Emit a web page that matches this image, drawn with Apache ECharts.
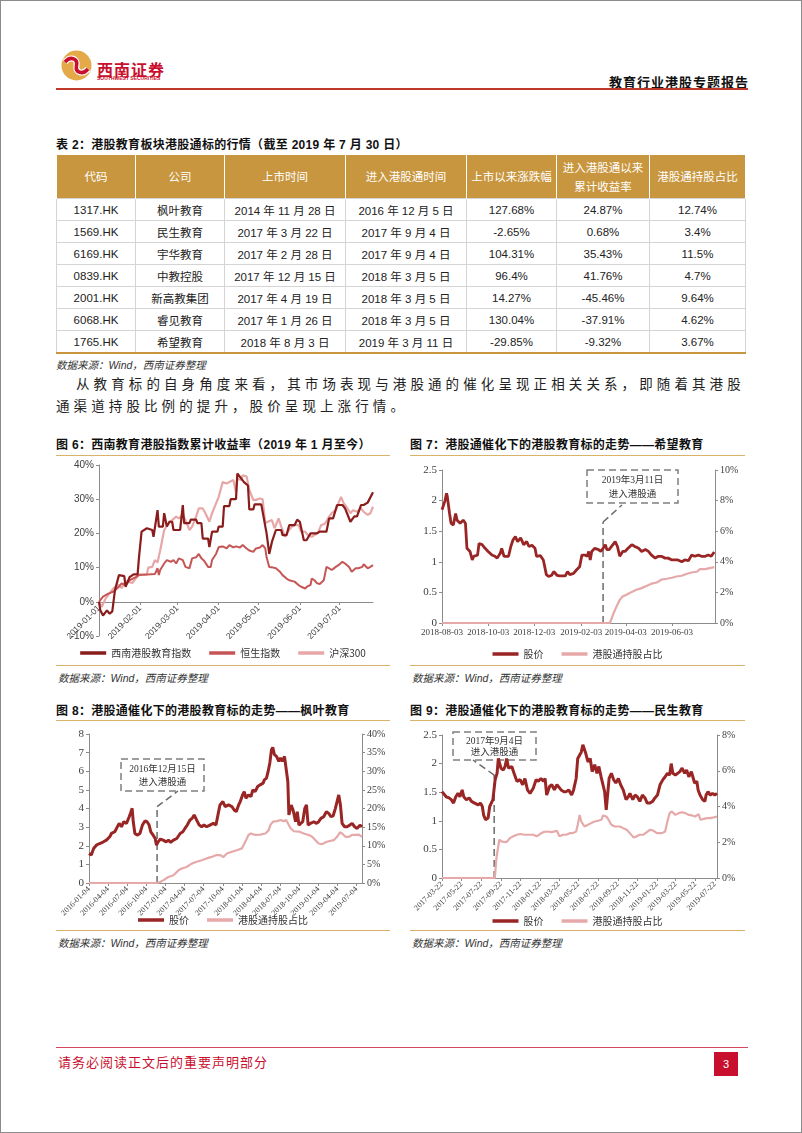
<!DOCTYPE html>
<html><head><meta charset="utf-8">
<script src="https://cdn.jsdelivr.net/npm/echarts@6/dist/echarts.min.js"></script>
<style>
html,body{margin:0;padding:0;background:#fff}
body{width:802px;height:1133px;position:relative;overflow:hidden;font-family:"Liberation Sans","Noto Sans CJK SC",sans-serif;color:#222}
.frame{position:absolute;left:0;top:0;width:800px;height:1131px;border:1px solid #8c8c8c;pointer-events:none}
.abs{position:absolute;white-space:nowrap}
.hline{position:absolute;height:0}
.cap{font-weight:bold;font-size:12px;letter-spacing:0.3px;color:#111}
.src{font-style:italic;font-size:10.5px;color:#333}
.para{font-size:13.5px;letter-spacing:4.1px;color:#222;font-family:"Noto Sans CJK SC",sans-serif}
table.tbl{position:absolute;left:56px;top:155px;border-collapse:collapse;table-layout:fixed;width:689px}
table.tbl th{background:#C8963E;color:#fff;font-weight:normal;font-size:11.5px;height:43px;padding:0;border-left:1px solid #fff;border-right:1px solid #fff;line-height:19px;font-family:"Noto Sans CJK SC",sans-serif}
table.tbl td{height:21px;padding:0;text-align:center;font-size:11.5px;border:1px solid #d4d4d4;color:#222}
table.tbl tr:last-child td{border-bottom:2px solid #C8963E}
.cn{font-family:"Noto Sans CJK SC",sans-serif;font-size:11px}
.chart{position:absolute}
</style></head>
<body>
<div class="frame"></div>

<!-- header -->
<svg class="abs" style="left:61px;top:50px" width="31" height="31" viewBox="0 0 31 31">
  <circle cx="15.5" cy="15.5" r="15" fill="#E4A948"/>
  <path d="M4 12 C9 6, 17 8, 15.5 15.5 C14 23, 22 25, 27 19" stroke="#fff" stroke-width="6" fill="none"/>
  <path d="M4 12 C9 6, 17 8, 15.5 15.5 C14 23, 22 25, 27 19" stroke="#C8102E" stroke-width="3.6" fill="none"/>
</svg>
<div class="abs" style="left:97px;top:57px;font-size:16px;font-weight:bold;color:#C8102E;letter-spacing:1px;font-family:'Noto Sans CJK SC'">西南证券</div>
<div class="abs" style="left:97px;top:75px;font-size:5px;color:#C8102E;font-weight:bold">SOUTHWEST SECURITIES</div>
<div class="abs" style="left:609px;top:72px;font-size:13px;font-weight:bold;letter-spacing:1px;color:#111;font-family:'Noto Sans CJK SC'">教育行业港股专题报告</div>
<div class="hline" style="left:56px;top:88px;width:692px;border-top:2px solid #C0392B"></div>

<!-- table -->
<div class="abs cap" style="left:56px;top:135px">表 2：港股教育板块港股通标的行情（截至 2019 年 7 月 30 日）</div>
<table class="tbl">
<colgroup><col style="width:79px"><col style="width:89px"><col style="width:121px"><col style="width:121px"><col style="width:90px"><col style="width:93px"><col style="width:96px"></colgroup>
<tr><th>代码</th><th>公司</th><th>上市时间</th><th>进入港股通时间</th><th>上市以来涨跌幅</th><th>进入港股通以来<br>累计收益率</th><th>港股通持股占比</th></tr>
<tbody id="tbody"></tbody>
</table>
<div class="abs src" style="left:56px;top:357px">数据来源：Wind，西南证券整理</div>

<div class="abs para" style="left:76px;top:373px">从教育标的自身角度来看，其市场表现与港股通的催化呈现正相关关系，即随着其港股</div>
<div class="abs para" style="left:56px;top:395px">通渠道持股比例的提升，股价呈现上涨行情。</div>

<!-- figure captions -->
<div class="abs cap" style="left:56px;top:435px">图 6：西南教育港股指数累计收益率（2019 年 1 月至今）</div>
<div class="hline" style="left:56px;top:455px;width:334px;border-top:1.5px solid #D9B36A"></div>
<div class="abs cap" style="left:410px;top:435px">图 7：港股通催化下的港股教育标的走势——希望教育</div>
<div class="hline" style="left:410px;top:455px;width:335px;border-top:1.5px solid #D9B36A"></div>
<div id="c6" class="chart" style="left:56px;top:458px;width:334px;height:205px"></div>
<div id="c7" class="chart" style="left:410px;top:458px;width:335px;height:205px"></div>
<div class="hline" style="left:56px;top:665px;width:334px;border-top:1.5px solid #D9B36A"></div>
<div class="hline" style="left:410px;top:665px;width:335px;border-top:1.5px solid #D9B36A"></div>
<div class="abs src" style="left:58px;top:670px">数据来源：Wind，西南证券整理</div>
<div class="abs src" style="left:412px;top:670px">数据来源：Wind，西南证券整理</div>

<div class="abs cap" style="left:56px;top:701px">图 8：港股通催化下的港股教育标的走势——枫叶教育</div>
<div class="hline" style="left:56px;top:720px;width:334px;border-top:1.5px solid #D9B36A"></div>
<div class="abs cap" style="left:410px;top:701px">图 9：港股通催化下的港股教育标的走势——民生教育</div>
<div class="hline" style="left:410px;top:720px;width:335px;border-top:1.5px solid #D9B36A"></div>
<div id="c8" class="chart" style="left:56px;top:723px;width:334px;height:205px"></div>
<div id="c9" class="chart" style="left:410px;top:723px;width:335px;height:205px"></div>
<div class="hline" style="left:56px;top:930px;width:334px;border-top:1.5px solid #D9B36A"></div>
<div class="hline" style="left:410px;top:930px;width:335px;border-top:1.5px solid #D9B36A"></div>
<div class="abs src" style="left:58px;top:935px">数据来源：Wind，西南证券整理</div>
<div class="abs src" style="left:412px;top:935px">数据来源：Wind，西南证券整理</div>

<!-- footer -->
<div class="hline" style="left:56px;top:1047px;width:692px;border-top:1.5px solid #D9455F"></div>
<div class="abs" style="left:58px;top:1052px;font-size:13px;letter-spacing:1px;color:#C8102E;font-family:'Noto Sans CJK SC'">请务必阅读正文后的重要声明部分</div>
<div class="abs" style="left:714px;top:1052px;width:24px;height:24px;background:#C8102E;color:#fff;font-size:11px;text-align:center;line-height:24px">3</div>

<script>
// ---------------- table data ----------------
const tableCodes = ['1317.HK','1569.HK','6169.HK','0839.HK','2001.HK','6068.HK','1765.HK'];
const tableNames = ['枫叶教育','民生教育','宇华教育','中教控股','新高教集团','睿见教育','希望教育'];
const tableListDates = ['2014 年 11 月 28 日','2017 年 3 月 22 日','2017 年 2 月 28 日','2017 年 12 月 15 日','2017 年 4 月 19 日','2017 年 1 月 26 日','2018 年 8 月 3 日'];
const tableHKConnectDates = ['2016 年 12 月 5 日','2017 年 9 月 4 日','2017 年 9 月 4 日','2018 年 3 月 5 日','2018 年 3 月 5 日','2018 年 3 月 5 日','2019 年 3 月 11 日'];
const tableSinceListing = ['127.68%','-2.65%','104.31%','96.4%','14.27%','130.04%','-29.85%'];
const tableSinceConnect = ['24.87%','0.68%','35.43%','41.76%','-45.46%','-37.91%','-9.32%'];
const tableHolding = ['12.74%','3.4%','11.5%','4.7%','9.64%','4.62%','3.67%'];

// ---------------- figure 6 ----------------
const fig6Ticks = ['2019-01-01','2019-02-01','2019-03-01','2019-04-01','2019-05-01','2019-06-01','2019-07-01'];
const fig6Range = ['2019-01-01','2019-07-26'];
const fig6Names = ['西南港股教育指数','恒生指数','沪深300'];
const fig6Edu = [['2019-01-01',0],['2019-01-02',-2.5],['2019-01-04',-4],['2019-01-07',-2.5],['2019-01-09',-3.5],['2019-01-11',-2.8],['2019-01-13',3.4],['2019-01-16',7.8],['2019-01-20',7.5],['2019-01-21',4.4],['2019-01-24',7.2],['2019-01-27',8],['2019-01-30',8],['2019-01-31',12.7],['2019-02-02',20.5],['2019-02-06',21.5],['2019-02-10',21],['2019-02-11',19],['2019-02-14',26.8],['2019-02-15',22],['2019-02-18',22],['2019-02-19',25.9],['2019-02-21',22],['2019-02-23',23.4],['2019-02-25',23.4],['2019-02-26',21],['2019-03-03',21],['2019-03-05',28.3],['2019-03-06',23],['2019-03-10',23],['2019-03-11',24],['2019-03-15',24],['2019-03-16',23],['2019-03-19',23],['2019-03-20',18.5],['2019-03-24',18.5],['2019-03-25',16],['2019-03-27',20.5],['2019-03-31',20.5],['2019-04-01',22],['2019-04-04',22],['2019-04-05',28],['2019-04-09',28],['2019-04-10',30],['2019-04-14',30],['2019-04-15',37.5],['2019-04-18',36],['2019-04-20',35],['2019-04-23',34],['2019-04-24',27],['2019-04-27',27],['2019-04-28',28.5],['2019-05-03',28.5],['2019-05-04',29],['2019-05-07',20],['2019-05-09',14],['2019-05-11',17.5],['2019-05-14',21],['2019-05-18',21],['2019-05-19',19.5],['2019-05-22',19.5],['2019-05-24',22.4],['2019-05-28',22.4],['2019-05-30',24],['2019-06-01',23.4],['2019-06-04',18],['2019-06-06',18],['2019-06-09',20],['2019-06-14',20],['2019-06-16',20.5],['2019-06-21',20.5],['2019-06-23',24.4],['2019-06-26',24.4],['2019-06-29',28.3],['2019-07-03',28.3],['2019-07-05',27.3],['2019-07-09',23.4],['2019-07-12',25],['2019-07-14',25],['2019-07-17',28.3],['2019-07-19',28.3],['2019-07-22',29],['2019-07-26',32]];
const fig6Hsi = [['2019-01-01',0],['2019-01-04',1.5],['2019-01-08',2.4],['2019-01-12',3],['2019-01-16',4.4],['2019-01-18',5.4],['2019-01-21',4.9],['2019-01-24',6.3],['2019-01-29',7.3],['2019-01-31',7.8],['2019-02-01',8.1],['2019-02-12',8.1],['2019-02-14',9.8],['2019-02-15',7.8],['2019-02-16',9.3],['2019-02-19',11.2],['2019-02-21',12.2],['2019-02-24',11.7],['2019-02-26',12.2],['2019-02-28',11.2],['2019-03-02',12.7],['2019-03-05',12.2],['2019-03-07',10.2],['2019-03-10',9.8],['2019-03-12',12.7],['2019-03-15',13],['2019-03-17',14],['2019-03-19',12.7],['2019-03-21',12],['2019-03-24',10.2],['2019-03-26',10.2],['2019-03-27',12.2],['2019-03-30',14],['2019-04-01',16],['2019-04-04',16.2],['2019-04-07',15.6],['2019-04-09',16.6],['2019-04-12',15.9],['2019-04-14',16.2],['2019-04-17',15.9],['2019-04-19',16.6],['2019-04-22',15.6],['2019-04-24',15],['2019-04-27',14.6],['2019-04-29',15.6],['2019-05-02',15.9],['2019-05-04',16.6],['2019-05-06',15.6],['2019-05-07',13],['2019-05-09',10.2],['2019-05-12',10],['2019-05-14',9.8],['2019-05-17',8.8],['2019-05-19',7.8],['2019-05-22',6.8],['2019-05-24',6.3],['2019-05-28',5.9],['2019-05-31',4.9],['2019-06-02',4.4],['2019-06-05',3.9],['2019-06-07',4.6],['2019-06-09',4.9],['2019-06-10',6.8],['2019-06-12',6.3],['2019-06-14',5.4],['2019-06-16',5.2],['2019-06-19',6.3],['2019-06-21',10.2],['2019-06-23',9.8],['2019-06-25',9.3],['2019-06-28',10.2],['2019-06-30',10.7],['2019-07-03',11.7],['2019-07-05',11.2],['2019-07-08',10.2],['2019-07-10',8.8],['2019-07-13',9.8],['2019-07-15',9.8],['2019-07-18',10.2],['2019-07-19',11],['2019-07-22',9.8],['2019-07-24',10.2],['2019-07-26',10.7]];
const fig6Hs300 = [['2019-01-01',0],['2019-01-03',-1.5],['2019-01-06',1],['2019-01-08',2],['2019-01-12',4],['2019-01-16',5],['2019-01-18',4],['2019-01-21',6],['2019-01-26',5.5],['2019-01-29',7],['2019-01-31',8],['2019-02-06',8],['2019-02-07',10],['2019-02-10',10.2],['2019-02-12',12.2],['2019-02-14',11.5],['2019-02-16',15],['2019-02-19',21],['2019-02-23',23.4],['2019-02-25',23.9],['2019-02-28',24.9],['2019-03-02',24.4],['2019-03-05',25.4],['2019-03-07',23.9],['2019-03-10',21],['2019-03-12',22],['2019-03-15',24.9],['2019-03-17',27.3],['2019-03-20',27.3],['2019-03-22',25.9],['2019-03-25',23.4],['2019-03-27',25.9],['2019-03-30',28.8],['2019-04-01',30.7],['2019-04-04',35],['2019-04-07',34.6],['2019-04-09',35],['2019-04-12',35.6],['2019-04-14',32],['2019-04-15',36],['2019-04-18',35.6],['2019-04-19',37],['2019-04-22',36.6],['2019-04-24',32.7],['2019-04-27',29.8],['2019-04-29',29.8],['2019-05-02',30.2],['2019-05-04',30],['2019-05-06',23],['2019-05-08',23.4],['2019-05-11',23.9],['2019-05-13',21.5],['2019-05-16',24.4],['2019-05-18',22],['2019-05-21',19],['2019-05-23',20.5],['2019-05-26',22],['2019-05-28',22.4],['2019-05-31',22.4],['2019-06-02',20.5],['2019-06-05',20.5],['2019-06-07',19.5],['2019-06-10',19],['2019-06-12',19.5],['2019-06-15',20.5],['2019-06-17',22.4],['2019-06-20',22.9],['2019-06-23',24.9],['2019-06-25',25.9],['2019-06-28',26.8],['2019-06-30',28.8],['2019-07-02',30.7],['2019-07-04',28.8],['2019-07-06',27.8],['2019-07-09',25.9],['2019-07-11',26.8],['2019-07-14',26.3],['2019-07-17',27.3],['2019-07-19',26.3],['2019-07-22',25.4],['2019-07-24',25.9],['2019-07-26',27.8]];

// ---------------- figure 7 (希望教育) ----------------
const fig7Ticks = ['2018-08-03','2018-10-03','2018-12-03','2019-02-03','2019-04-03','2019-06-03'];
const fig7Range = ['2018-08-03','2019-07-30'];
const fig7Price = [['2018-08-03',1.85],['2018-08-05',1.82],['2018-08-07',2.0],['2018-08-09',2.12],['2018-08-10',2.07],['2018-08-13',1.79],['2018-08-15',1.63],['2018-08-18',1.6],['2018-08-21',1.79],['2018-08-23',1.68],['2018-08-25',1.71],['2018-08-27',1.63],['2018-08-31',1.68],['2018-09-03',1.63],['2018-09-05',1.22],['2018-09-09',1.17],['2018-09-12',1.03],['2018-09-14',1.09],['2018-09-19',1.11],['2018-09-21',1.3],['2018-09-25',1.28],['2018-09-29',1.22],['2018-10-03',1.17],['2018-10-08',1.11],['2018-10-12',1.09],['2018-10-15',1.06],['2018-10-19',1.14],['2018-10-21',1.22],['2018-10-24',1.09],['2018-10-30',1.09],['2018-11-02',1.25],['2018-11-05',1.36],['2018-11-08',1.41],['2018-11-11',1.33],['2018-11-15',1.39],['2018-11-19',1.28],['2018-11-23',1.33],['2018-11-26',1.25],['2018-11-30',1.27],['2018-12-04',1.22],['2018-12-06',1.09],['2018-12-11',1.1],['2018-12-15',1.03],['2018-12-19',0.79],['2018-12-22',0.76],['2018-12-26',0.78],['2018-12-29',0.84],['2019-01-02',0.78],['2019-01-06',0.77],['2019-01-13',0.77],['2019-01-16',0.84],['2019-01-19',0.79],['2019-01-24',0.81],['2019-01-28',0.87],['2019-02-01',0.92],['2019-02-04',1.11],['2019-02-08',1.11],['2019-02-11',1.09],['2019-02-13',1.17],['2019-02-15',1.03],['2019-02-17',1.17],['2019-02-21',1.22],['2019-02-26',1.2],['2019-03-01',1.17],['2019-03-04',1.22],['2019-03-07',1.28],['2019-03-09',1.2],['2019-03-12',1.2],['2019-03-17',1.28],['2019-03-20',1.33],['2019-03-23',1.25],['2019-03-26',1.09],['2019-03-30',1.17],['2019-04-02',1.17],['2019-04-06',1.22],['2019-04-11',1.28],['2019-04-15',1.25],['2019-04-20',1.22],['2019-04-24',1.17],['2019-04-29',1.2],['2019-05-03',1.17],['2019-05-07',1.11],['2019-05-12',1.06],['2019-05-16',1.09],['2019-05-20',1.09],['2019-05-25',1.06],['2019-05-29',1.06],['2019-06-03',1.03],['2019-06-07',1.03],['2019-06-11',1.03],['2019-06-16',1.0],['2019-06-20',1.03],['2019-06-25',1.02],['2019-06-29',1.11],['2019-07-03',1.09],['2019-07-08',1.11],['2019-07-12',1.09],['2019-07-17',1.09],['2019-07-21',1.11],['2019-07-25',1.09],['2019-07-29',1.16]];
const fig7Hold = [['2018-08-03',0],['2019-03-13',0],['2019-03-18',0.65],['2019-03-22',1.1],['2019-03-26',1.5],['2019-03-30',1.74],['2019-04-04',1.85],['2019-04-08',1.96],['2019-04-13',2.07],['2019-04-17',2.17],['2019-04-24',2.28],['2019-05-01',2.43],['2019-05-07',2.57],['2019-05-14',2.65],['2019-05-20',2.83],['2019-05-27',2.89],['2019-06-03',2.96],['2019-06-09',3.04],['2019-06-16',3.09],['2019-06-22',3.2],['2019-06-29',3.3],['2019-07-06',3.35],['2019-07-10',3.52],['2019-07-17',3.52],['2019-07-23',3.59],['2019-07-29',3.65]];
const fig7Note = {date:'2019-03-04', top:1.65, text:['2019年3月11日','进入港股通']};

// ---------------- figure 8 (枫叶教育) ----------------
const fig8Ticks = ['2016-01-04','2016-04-04','2016-07-04','2016-10-04','2017-01-04','2017-04-04','2017-07-04','2017-10-04','2018-01-04','2018-04-04','2018-07-04','2018-10-04','2019-01-04','2019-04-04','2019-07-04'];
const fig8Range = ['2016-01-04','2019-07-30'];
const fig8Price = [['2016-01-04',1.58],['2016-01-15',1.5],['2016-01-26',1.85],['2016-02-08',2.03],['2016-02-24',2.12],['2016-03-11',2.2],['2016-03-27',2.3],['2016-04-12',2.48],['2016-04-20',2.66],['2016-05-06',2.75],['2016-05-14',2.66],['2016-05-27',3.2],['2016-06-07',3.02],['2016-06-18',3.29],['2016-07-01',3.2],['2016-07-14',3.56],['2016-07-20',3.74],['2016-07-28',4.01],['2016-08-02',3.3],['2016-08-10',2.66],['2016-08-21',2.57],['2016-09-03',2.66],['2016-09-15',3.11],['2016-09-27',3.33],['2016-10-07',3.29],['2016-10-17',3.11],['2016-10-25',2.75],['2016-11-05',2.57],['2016-11-15',2.39],['2016-11-21',2.03],['2016-11-29',2.21],['2016-12-10',2.36],['2016-12-23',2.3],['2017-01-06',2.21],['2017-01-17',2.3],['2017-01-28',2.18],['2017-02-10',2.3],['2017-02-26',2.39],['2017-03-14',2.66],['2017-03-27',2.75],['2017-04-06',2.93],['2017-04-17',3.11],['2017-04-30',3.38],['2017-05-12',3.5],['2017-05-20',3.65],['2017-06-01',3.38],['2017-06-13',3.11],['2017-06-25',3.02],['2017-07-06',3.11],['2017-07-18',3.02],['2017-08-03',3.11],['2017-08-19',3.2],['2017-09-01',3.11],['2017-09-12',3.74],['2017-09-20',4.19],['2017-10-04',4.37],['2017-10-15',4.1],['2017-10-31',4.19],['2017-11-16',4.1],['2017-11-27',3.92],['2017-12-07',3.83],['2017-12-18',4.19],['2017-12-26',4.37],['2018-01-06',4.73],['2018-01-14',4.91],['2018-01-22',4.55],['2018-02-03',4.73],['2018-02-15',4.64],['2018-02-24',5.0],['2018-03-07',4.91],['2018-03-19',5.18],['2018-03-31',5.27],['2018-04-14',5.36],['2018-04-20',5.54],['2018-04-30',5.63],['2018-05-08',5.99],['2018-05-16',6.44],['2018-05-24',7.16],['2018-05-30',7.28],['2018-06-07',6.89],['2018-06-17',6.8],['2018-06-28',6.53],['2018-07-06',6.71],['2018-07-15',6.53],['2018-07-25',6.8],['2018-08-02',6.71],['2018-08-10',5.45],['2018-08-15',3.65],['2018-08-26',4.19],['2018-09-04',3.92],['2018-09-16',3.29],['2018-09-24',3.83],['2018-10-02',3.11],['2018-10-09',3.2],['2018-10-20',3.29],['2018-10-30',4.01],['2018-11-07',4.19],['2018-11-15',3.11],['2018-11-26',3.2],['2018-12-12',3.29],['2018-12-25',3.2],['2019-01-04',3.29],['2019-01-15',3.47],['2019-01-28',3.56],['2019-02-10',3.83],['2019-02-21',3.74],['2019-03-04',3.56],['2019-03-14',3.6],['2019-03-25',4.01],['2019-04-02',4.37],['2019-04-10',4.73],['2019-04-18',4.19],['2019-04-26',3.2],['2019-05-08',3.02],['2019-05-20',3.02],['2019-06-02',3.11],['2019-06-13',3.2],['2019-06-25',3.02],['2019-07-07',2.93],['2019-07-20',3.11],['2019-07-30',3.02]];
const fig8Hold = [['2016-01-04',0],['2016-11-24',0],['2016-12-08',0.27],['2016-12-23',0.7],['2017-01-17',1.6],['2017-02-10',2.1],['2017-03-06',3.4],['2017-03-22',3.9],['2017-04-14',4.3],['2017-05-08',5.2],['2017-06-01',5.7],['2017-06-25',6.1],['2017-07-18',6.6],['2017-08-11',7.0],['2017-09-04',7.5],['2017-09-20',7.5],['2017-10-07',7.0],['2017-10-23',7.9],['2017-11-16',8.4],['2017-12-10',8.8],['2018-01-03',9.3],['2018-01-11',9.7],['2018-01-19',11.1],['2018-01-27',12.0],['2018-02-03',12.9],['2018-02-15',13.3],['2018-03-07',12.9],['2018-03-31',13.0],['2018-04-25',13.3],['2018-05-11',14.2],['2018-05-19',15.6],['2018-06-01',16.5],['2018-06-20',16.6],['2018-07-06',16.9],['2018-07-22',16.6],['2018-08-02',16.9],['2018-08-10',16.5],['2018-08-23',14.7],['2018-09-08',13.9],['2018-10-02',13.8],['2018-10-25',13.3],['2018-11-18',12.9],['2018-12-04',12.4],['2018-12-20',11.5],['2019-01-04',10.6],['2019-01-20',10.4],['2019-02-05',10.9],['2019-02-21',11.2],['2019-03-17',11.5],['2019-04-02',12.4],['2019-04-16',13.6],['2019-04-26',13.3],['2019-05-12',12.4],['2019-05-28',12.4],['2019-06-13',12.9],['2019-06-29',12.9],['2019-07-15',13.0],['2019-07-30',12.4]];
const fig8Note = {date:'2016-11-24', top:4.1, text:['2016年12月15日','进入港股通']};

// ---------------- figure 9 (民生教育) ----------------
const fig9Ticks = ['2017-03-22','2017-05-22','2017-07-22','2017-09-22','2017-11-22','2018-01-22','2018-03-22','2018-05-22','2018-07-22','2018-09-22','2018-11-22','2019-01-22','2019-03-22','2019-05-22','2019-07-22'];
const fig9Range = ['2017-03-22','2019-07-29'];
const fig9Price = [['2017-03-22',1.51],['2017-03-27',1.48],['2017-04-04',1.42],['2017-04-13',1.4],['2017-04-20',1.37],['2017-04-27',1.31],['2017-05-04',1.42],['2017-05-11',1.48],['2017-05-17',1.42],['2017-05-24',1.54],['2017-05-29',1.42],['2017-06-06',1.37],['2017-06-15',1.4],['2017-06-22',1.34],['2017-07-02',1.31],['2017-07-13',1.28],['2017-07-20',1.31],['2017-07-26',1.25],['2017-07-30',1.1],['2017-08-05',1.02],['2017-08-13',1.05],['2017-08-18',1.25],['2017-08-23',1.31],['2017-08-28',1.37],['2017-09-04',1.72],['2017-09-10',1.83],['2017-09-14',2.09],['2017-09-22',1.92],['2017-09-30',1.89],['2017-10-05',1.95],['2017-10-10',2.09],['2017-10-16',1.92],['2017-10-26',1.95],['2017-11-02',1.83],['2017-11-11',1.69],['2017-11-21',1.72],['2017-11-29',1.63],['2017-12-06',1.74],['2017-12-14',1.54],['2017-12-22',1.48],['2018-01-01',1.57],['2018-01-10',1.72],['2018-01-17',1.69],['2018-01-25',1.74],['2018-02-02',1.69],['2018-02-07',1.74],['2018-02-12',1.45],['2018-02-21',1.6],['2018-02-28',1.63],['2018-03-08',1.54],['2018-03-16',1.63],['2018-03-22',1.6],['2018-03-29',1.54],['2018-04-06',1.51],['2018-04-14',1.51],['2018-04-22',1.54],['2018-05-01',1.45],['2018-05-07',1.54],['2018-05-15',1.74],['2018-05-20',2.09],['2018-05-26',2.15],['2018-05-31',2.2],['2018-06-05',2.33],['2018-06-10',2.35],['2018-06-14',2.18],['2018-06-21',2.03],['2018-06-28',2.09],['2018-07-04',1.86],['2018-07-12',1.98],['2018-07-19',1.83],['2018-07-25',1.95],['2018-08-02',1.74],['2018-08-07',1.72],['2018-08-12',1.51],['2018-08-17',1.19],['2018-08-21',1.16],['2018-08-26',1.74],['2018-09-02',1.83],['2018-09-09',1.72],['2018-09-16',1.66],['2018-09-24',1.74],['2018-10-01',1.63],['2018-10-09',1.54],['2018-10-18',1.37],['2018-10-25',1.42],['2018-10-30',1.48],['2018-11-08',1.37],['2018-11-15',1.45],['2018-11-22',1.42],['2018-11-30',1.34],['2018-12-08',1.45],['2018-12-16',1.4],['2018-12-23',1.31],['2019-01-01',1.31],['2019-01-09',1.34],['2019-01-16',1.4],['2019-01-24',1.45],['2019-02-01',1.63],['2019-02-10',1.72],['2019-02-17',1.77],['2019-02-24',1.83],['2019-03-03',1.8],['2019-03-08',2.0],['2019-03-13',1.83],['2019-03-21',1.8],['2019-03-28',1.83],['2019-04-04',1.86],['2019-04-11',1.92],['2019-04-19',1.83],['2019-04-25',1.89],['2019-05-02',1.77],['2019-05-10',1.86],['2019-05-16',1.74],['2019-05-20',1.66],['2019-05-27',1.69],['2019-05-31',1.54],['2019-06-06',1.45],['2019-06-14',1.37],['2019-06-21',1.34],['2019-06-25',1.45],['2019-07-01',1.51],['2019-07-08',1.45],['2019-07-15',1.48],['2019-07-22',1.45],['2019-07-29',1.48]];
const fig9Hold = [['2017-03-22',0],['2017-09-03',0],['2017-09-08',1.12],['2017-09-17',2.14],['2017-09-24',2.05],['2017-10-05',2.0],['2017-10-12',2.05],['2017-10-20',2.23],['2017-10-31',2.33],['2017-11-11',2.42],['2017-11-21',2.46],['2017-12-06',2.42],['2017-12-22',2.42],['2018-01-01',2.42],['2018-01-12',2.33],['2018-01-22',2.46],['2018-02-02',2.57],['2018-02-12',2.6],['2018-02-28',2.57],['2018-03-16',2.64],['2018-03-24',2.33],['2018-04-04',2.42],['2018-04-14',2.42],['2018-04-25',2.51],['2018-05-05',2.51],['2018-05-15',2.6],['2018-05-20',2.98],['2018-05-26',3.53],['2018-05-31',3.16],['2018-06-10',2.88],['2018-06-21',2.98],['2018-07-01',3.07],['2018-07-12',3.16],['2018-07-22',3.2],['2018-08-02',3.26],['2018-08-07',3.5],['2018-08-17',3.44],['2018-08-23',3.3],['2018-09-02',2.98],['2018-09-13',2.88],['2018-09-29',2.88],['2018-10-09',2.79],['2018-10-20',2.7],['2018-10-30',2.51],['2018-11-10',2.27],['2018-11-20',2.33],['2018-11-30',2.42],['2018-12-11',2.42],['2018-12-22',2.57],['2019-01-01',2.7],['2019-01-12',2.64],['2019-01-22',2.51],['2019-02-07',2.51],['2019-02-17',2.6],['2019-02-24',3.16],['2019-03-03',3.63],['2019-03-10',3.72],['2019-03-21',3.53],['2019-03-31',3.63],['2019-04-11',3.68],['2019-04-21',3.63],['2019-05-02',3.53],['2019-05-12',3.5],['2019-05-22',3.44],['2019-06-02',3.57],['2019-06-07',3.26],['2019-06-18',3.31],['2019-06-28',3.35],['2019-07-08',3.35],['2019-07-19',3.39],['2019-07-29',3.44]];
const fig9Note = {date:'2017-09-01', top:1.8, text:['2017年9月4日','进入港股通']};

const legendNames = ['股价','港股通持股占比'];

// ---------------- build table ----------------
(function(){
  const tb = document.getElementById('tbody');
  let h = '';
  for (let i = 0; i < tableCodes.length; i++) {
    h += '<tr><td>'+tableCodes[i]+'</td><td class="cn">'+tableNames[i]+'</td><td>'+tableListDates[i]+'</td><td>'+tableHKConnectDates[i]+'</td><td>'+tableSinceListing[i]+'</td><td>'+tableSinceConnect[i]+'</td><td>'+tableHolding[i]+'</td></tr>';
  }
  tb.innerHTML = h;
})();

// ---------------- helpers ----------------
const ts = s => Date.parse(s + 'T00:00:00Z');
const fmtDate = v => new Date(v).toISOString().slice(0, 10);
const toXY = arr => arr.map(p => [ts(p[0]), p[1]]);
const AX = '#8c8c8c';
const SERIF = '"Liberation Serif","Noto Sans CJK SC",serif';
const SANS = '"Liberation Sans","Noto Sans CJK SC",sans-serif';
const PRICE_C = '#9A2525';
const HOLD_C = '#E6A9A9';

function xAxisCfg(range, ticks, rotate, font, size) {
  const tv = ticks.map(ts);
  return {
    type: 'value', min: ts(range[0]), max: ts(range[1]),
    axisLine: {show: true, onZero: false, lineStyle: {color: AX, width: 1}},
    axisTick: {show: true, customValues: tv, length: 3, lineStyle: {color: AX}},
    axisLabel: {customValues: tv, formatter: v => fmtDate(v), rotate: rotate, fontFamily: font, fontSize: size, color: '#404040', margin: 5},
    splitLine: {show: false}
  };
}
function yAxisCfg(min, max, interval, fmt, font, size, pos) {
  return {
    type: 'value', min: min, max: max, interval: interval, position: pos,
    axisLine: {show: true, lineStyle: {color: AX, width: 1}},
    axisTick: {show: true, length: 3, lineStyle: {color: AX}},
    axisLabel: {formatter: fmt, fontFamily: font, fontSize: size, color: '#404040', margin: 5},
    splitLine: {show: false}
  };
}
function lineSeries(name, data, color, width, yIdx, z) {
  return {name: name, type: 'line', data: toXY(data), yAxisIndex: yIdx || 0, symbol: 'none', showSymbol: false,
    lineStyle: {color: color, width: width}, itemStyle: {color: color}, z: z || 2, animation: false};
}
function legendCfg(names, top) {
  return {data: names, top: top, left: 'center', icon: 'rect', itemWidth: 26, itemHeight: 3.5, itemGap: 18,
    textStyle: {fontFamily: '"Noto Sans CJK SC",sans-serif', fontSize: 10, color: '#333'}};
}
function annotate(chart, note, box, diagEnd) {
  const p0 = chart.convertToPixel({gridIndex: 0}, [ts(note.date), 0]);
  const p1 = chart.convertToPixel({gridIndex: 0}, [ts(note.date), note.top]);
  const dash = {stroke: '#6b6b6b', lineWidth: 1.5, lineDash: [7, 4]};
  chart.setOption({graphic: [
    {type: 'line', z: 1, shape: {x1: p0[0], y1: p0[1], x2: p1[0], y2: p1[1]}, style: dash},
    {type: 'line', z: 1, shape: {x1: p1[0], y1: p1[1], x2: diagEnd[0], y2: diagEnd[1]}, style: dash},
    {type: 'rect', z: 1, shape: {x: box[0], y: box[1], width: box[2], height: box[3]}, style: {fill: 'none', stroke: '#7f7f7f', lineWidth: 1.5, lineDash: [7, 4]}},
    {type: 'text', z: 3, x: box[0] + box[2] / 2, y: box[1] + box[3] * 0.33, style: {text: note.text[0], fontFamily: SERIF, fontSize: 9.5, fill: '#333', align: 'center', verticalAlign: 'middle'}},
    {type: 'text', z: 3, x: box[0] + box[2] / 2, y: box[1] + box[3] * 0.7, style: {text: note.text[1], fontFamily: '"Noto Sans CJK SC",sans-serif', fontSize: 9.5, fill: '#333', align: 'center', verticalAlign: 'middle'}}
  ]});
}

// ---------------- figure 6 ----------------
// grid 0 holds the data (-10%..40%); grid 1 only carries the date axis drawn on the 0% line
const c6 = echarts.init(document.getElementById('c6'), null, {renderer: 'canvas'});
const x6 = xAxisCfg(fig6Range, fig6Ticks, 45, SANS, 8.5);
c6.setOption({
  animation: false,
  grid: [
    {left: 43, right: 17, top: 7, bottom: 27, outerBoundsMode: 'none'},
    {left: 43, right: 17, top: 7, bottom: 61, outerBoundsMode: 'none'}
  ],
  legend: legendCfg(fig6Names, 185),
  xAxis: [
    {type: 'value', gridIndex: 0, min: ts(fig6Range[0]), max: ts(fig6Range[1]), show: false},
    Object.assign({gridIndex: 1}, x6)
  ],
  yAxis: [
    Object.assign({gridIndex: 0}, yAxisCfg(-10, 40, 10, '{value}%', SANS, 10, 'left')),
    {type: 'value', gridIndex: 1, min: 0, max: 1, show: false}
  ],
  series: [
    lineSeries(fig6Names[0], fig6Edu, '#8B1C1C', 2.2, 0, 4),
    lineSeries(fig6Names[1], fig6Hsi, '#C65656', 2, 0, 3),
    lineSeries(fig6Names[2], fig6Hs300, '#E8A7A7', 2.2, 0, 2)
  ]
});

// ---------------- figures 7-9 ----------------
function dualChart(id, range, ticks, rotate, xSize, price, hold, lmax, linterval, rmax, rinterval, grid, pw) {
  const ch = echarts.init(document.getElementById(id), null, {renderer: 'canvas'});
  ch.setOption({
    animation: false,
    grid: {left: grid.left, right: grid.right, top: grid.top, bottom: grid.bottom, outerBoundsMode: 'none'},
    legend: legendCfg(legendNames, grid.legendTop),
    xAxis: xAxisCfg(range, ticks, rotate, SERIF, xSize),
    yAxis: [
      yAxisCfg(0, lmax, linterval, null, SERIF, 11, 'left'),
      yAxisCfg(0, rmax, rinterval, '{value}%', SERIF, 10, 'right')
    ],
    series: [
      lineSeries(legendNames[1], hold, HOLD_C, 2.2, 1, 2),
      lineSeries(legendNames[0], price, PRICE_C, pw, 0, 3)
    ]
  });
  return ch;
}
const c7 = dualChart('c7', fig7Range, fig7Ticks, 0, 9, fig7Price, fig7Hold, 2.5, 0.5, 10, 2,
  {left: 32, right: 30, top: 12, bottom: 40, legendTop: 186}, 2.8);
annotate(c7, fig7Note, [177, 12, 91, 33], [212, 47]);

const c8 = dualChart('c8', fig8Ticks ? fig8Range : fig8Range, fig8Ticks, 45, 8, fig8Price, fig8Hold, 8, 1, 40, 5,
  {left: 33, right: 28, top: 11, bottom: 45, legendTop: 187}, 3);
annotate(c8, fig8Note, [65, 36, 83, 32], [122, 68]);

const c9 = dualChart('c9', fig9Range, fig9Ticks, 45, 8, fig9Price, fig9Hold, 2.5, 0.5, 8, 2,
  {left: 32, right: 28, top: 12, bottom: 50, legendTop: 188}, 3);
annotate(c9, fig9Note, [43, 9, 83, 28], [63, 37]);
</script>
</body></html>
